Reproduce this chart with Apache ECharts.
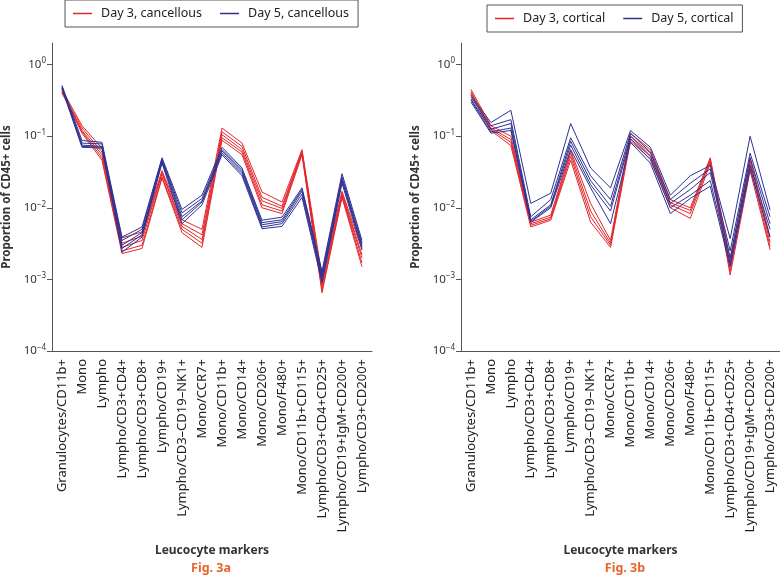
<!DOCTYPE html>
<html><head><meta charset="utf-8">
<script src="https://cdn.jsdelivr.net/npm/echarts@6/dist/echarts.min.js"></script>
<style>html,body{margin:0;padding:0;background:#fff}#c{width:780px;height:576px}</style>
</head><body><div id="c"></div>
<script>
const categories = ["Granulocytes/CD11b+","Mono","Lympho","Lympho/CD3+CD4+","Lympho/CD3+CD8+","Lympho/CD19+","Lympho/CD3–CD19–NK1+","Mono/CCR7+","Mono/CD11b+","Mono/CD14+","Mono/CD206+","Mono/F480+","Mono/CD11b+CD115+","Lympho/CD3+CD4+CD25+","Lympho/CD19+IgM+CD200+","Lympho/CD3+CD200+"];
const yTicks = [1e-4, 1e-3, 1e-2, 1e-1, 1];

// Fig 3a: Day 3, cancellous (red)
const canD3_1 = [0.45,0.14,0.068,0.0038,0.0046,0.033,0.0068,0.005,0.13,0.08,0.0166,0.012,0.065,0.0011,0.017,0.0026];
const canD3_2 = [0.42,0.13,0.06,0.0032,0.004,0.031,0.006,0.0042,0.115,0.072,0.014,0.0105,0.062,0.0009,0.016,0.0022];
const canD3_3 = [0.40,0.12,0.055,0.0028,0.0035,0.030,0.0055,0.0036,0.105,0.065,0.0125,0.0098,0.06,0.0008,0.015,0.002];
const canD3_4 = [0.43,0.115,0.05,0.0025,0.003,0.027,0.005,0.0032,0.095,0.06,0.011,0.009,0.057,0.0007,0.0145,0.0017];
const canD3_5 = [0.41,0.11,0.046,0.0023,0.0027,0.026,0.0045,0.0028,0.088,0.055,0.010,0.0083,0.055,0.00065,0.014,0.0015];
// Fig 3a: Day 5, cancellous (blue)
const canD5_1 = [0.51,0.087,0.082,0.0039,0.0054,0.05,0.0095,0.015,0.07,0.036,0.0067,0.0074,0.019,0.0013,0.03,0.0035];
const canD5_2 = [0.48,0.08,0.078,0.0035,0.005,0.048,0.0085,0.0135,0.065,0.034,0.0062,0.0068,0.018,0.0012,0.027,0.0032];
const canD5_3 = [0.47,0.075,0.072,0.003,0.0045,0.046,0.0075,0.0125,0.062,0.032,0.0058,0.0064,0.017,0.0011,0.025,0.003];
const canD5_4 = [0.50,0.072,0.07,0.0027,0.0042,0.044,0.0068,0.012,0.058,0.030,0.0054,0.006,0.0155,0.001,0.024,0.0028];
const canD5_5 = [0.46,0.07,0.068,0.0024,0.0039,0.042,0.006,0.011,0.055,0.028,0.0051,0.0055,0.014,0.0009,0.022,0.0026];
// Fig 3b: Day 3, cortical (red)
const corD3_1 = [0.45,0.14,0.1,0.0063,0.0079,0.063,0.0115,0.0035,0.11,0.065,0.013,0.010,0.05,0.0019,0.05,0.0039];
const corD3_2 = [0.42,0.13,0.09,0.006,0.0074,0.058,0.009,0.0032,0.1,0.058,0.0118,0.0092,0.047,0.0016,0.045,0.0033];
const corD3_3 = [0.40,0.125,0.082,0.0057,0.007,0.052,0.0075,0.003,0.092,0.052,0.011,0.0083,0.045,0.0013,0.038,0.0029];
const corD3_4 = [0.38,0.12,0.074,0.0054,0.0067,0.046,0.0063,0.0028,0.085,0.048,0.010,0.0071,0.042,0.00115,0.033,0.0026];
// Fig 3b: Day 5, cortical (blue)
const corD5_1 = [0.37,0.155,0.23,0.0115,0.016,0.15,0.036,0.019,0.12,0.07,0.015,0.028,0.039,0.0037,0.10,0.0093];
const corD5_2 = [0.35,0.14,0.17,0.0075,0.013,0.095,0.028,0.013,0.11,0.06,0.013,0.022,0.035,0.0025,0.058,0.0075];
const corD5_3 = [0.33,0.125,0.15,0.0068,0.011,0.085,0.024,0.0105,0.1,0.053,0.0115,0.018,0.031,0.002,0.05,0.006];
const corD5_4 = [0.32,0.115,0.13,0.0065,0.0105,0.075,0.021,0.009,0.092,0.047,0.010,0.015,0.024,0.0017,0.04,0.005];
const corD5_5 = [0.30,0.11,0.12,0.0063,0.01,0.065,0.019,0.006,0.082,0.042,0.0083,0.0135,0.020,0.0015,0.035,0.0039];

const RED = '#e3262b', BLUE = '#2e3192';
const FONT = 'Noto Sans';
const chart = echarts.init(document.getElementById('c'), null, {renderer:'canvas'});

function mkSeries(name, data, color, idx){
  return {name, type:'line', data, xAxisIndex:idx, yAxisIndex:idx, symbol:'none', silent:true,
    lineStyle:{color, width:1}, itemStyle:{color}, animation:false};
}
const series = [];
[canD3_1,canD3_2,canD3_3,canD3_4,canD3_5].forEach(d=>series.push(mkSeries('Day 3, cancellous', d, RED, 0)));
[canD5_1,canD5_2,canD5_3,canD5_4,canD5_5].forEach(d=>series.push(mkSeries('Day 5, cancellous', d, BLUE, 0)));
[corD3_1,corD3_2,corD3_3,corD3_4].forEach(d=>series.push(mkSeries('Day 3, cortical', d, RED, 1)));
[corD5_1,corD5_2,corD5_3,corD5_4,corD5_5].forEach(d=>series.push(mkSeries('Day 5, cortical', d, BLUE, 1)));

function yAxisCfg(idx){
  return {type:'log', logBase:10, gridIndex:idx, min:1e-4, max:2,
    name:'Proportion of CD45+ cells', nameLocation:'middle', nameGap:39,
    nameTextStyle:{fontFamily:FONT, fontSize:11.5, fontWeight:'bold', color:'#333'},
    axisLine:{show:true, lineStyle:{color:'#555', width:1}},
    axisTick:{show:true, length:5, customValues:yTicks, lineStyle:{color:'#555'}},
    splitLine:{show:false},
    axisLabel:{customValues:yTicks, margin:6, fontFamily:FONT, fontSize:11.5, color:'#333',
      formatter:function(v){const e=Math.round(Math.log10(v)); return '10{s|'+(e<0?'−'+(-e):e)+'}';},
      rich:{s:{fontSize:8, fontFamily:FONT, color:'#333', padding:[0,0,7,0]}}}
  };
}
function xAxisCfg(idx){
  return {type:'category', gridIndex:idx, data:categories, boundaryGap:true,
    name:'Leucocyte markers', nameLocation:'middle', nameGap:194,
    nameTextStyle:{fontFamily:FONT, fontSize:12, fontWeight:'bold', color:'#333'},
    axisLine:{lineStyle:{color:'#555', width:1}},
    axisTick:{alignWithLabel:true, length:5, lineStyle:{color:'#555'}},
    axisLabel:{rotate:90, interval:0, margin:8, fontFamily:FONT, fontSize:13, color:'#222'}
  };
}
function legendCfg(left, top, names){
  return {left, top, data:names, icon:'rect', itemWidth:19, itemHeight:1.5, itemGap:18,
    padding:[7,9,7,8], borderColor:'#555', borderWidth:1,
    textStyle:{fontFamily:FONT, fontSize:12.5, color:'#222', padding:[0,0,0,4]}};
}

chart.setOption({
  animation:false,
  grid:[{left:52, top:43, width:320, height:308},{left:461, top:43, width:320, height:308}],
  xAxis:[xAxisCfg(0), xAxisCfg(1)],
  yAxis:[yAxisCfg(0), yAxisCfg(1)],
  legend:[legendCfg(65, 0, ['Day 3, cancellous','Day 5, cancellous']), legendCfg(487, 5, ['Day 3, cortical','Day 5, cortical'])],
  title:[
    {text:'Fig. 3a', left:211, top:562, textAlign:'center', textStyle:{fontFamily:FONT, fontSize:12.5, fontWeight:'bold', color:'#e8642c'}, padding:0},
    {text:'Fig. 3b', left:625, top:562, textAlign:'center', textStyle:{fontFamily:FONT, fontSize:12.5, fontWeight:'bold', color:'#e8642c'}, padding:0}
  ],
  series
});
</script></body></html>
